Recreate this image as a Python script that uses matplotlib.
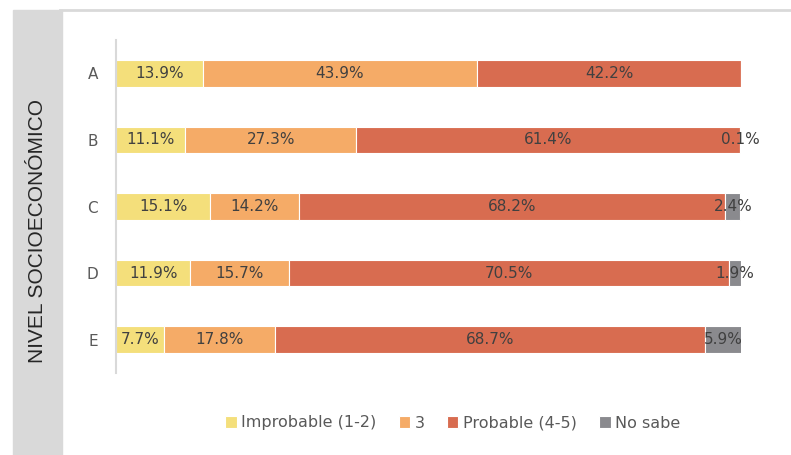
import matplotlib
matplotlib.use("Agg")
import matplotlib.pyplot as plt
from matplotlib.patches import Rectangle
from matplotlib.lines import Line2D

categories = ["A", "B", "C", "D", "E"]
series_names = ["Improbable (1-2)", "3", "Probable (4-5)", "No sabe"]
improbable = [13.9, 11.1, 15.1, 11.9, 7.7]
tres = [43.9, 27.3, 14.2, 15.7, 17.8]
probable = [42.2, 61.4, 68.2, 70.5, 68.7]
no_sabe = [0.0, 0.1, 2.4, 1.9, 5.9]
colors = ["#F4DF7B", "#F5AB67", "#D86C50", "#8A8A8E"]

plt.rcParams['font.family'] = ['DejaVu Sans']

W, H = 791, 455
fig = plt.figure(figsize=(W / 100, H / 100), dpi=100)

# background decorations
fig.patches.append(Rectangle((13 / W, 0), (62 - 13) / W, (H - 10) / H,
                             transform=fig.transFigure, color="#D9D9D9", zorder=0))
fig.lines.append(Line2D([60 / W, 1], [1 - 10 / H, 1 - 10 / H], transform=fig.transFigure,
                        color="#D9D9D9", lw=2, zorder=0))
fig.text(38 / W, 1 - 231 / H, "NIVEL SOCIOECONÓMICO", rotation=90, ha="center", va="center",
         fontsize=15, color="#262626", family=["Liberation Sans", "DejaVu Sans"])

ax = fig.add_axes([116 / W, 82 / H, 625 / W, 333 / H])
series = [improbable, tres, probable, no_sabe]
y = list(range(len(categories)))
left = [0.0] * len(categories)
handles = []
for name, vals, col in zip(series_names, series, colors):
    bars = ax.barh(y, vals, left=left, height=0.4, color=col, edgecolor="white",
                   linewidth=0.8, label=name)
    handles.append(bars)
    for yi, v, l in zip(y, vals, left):
        if v > 0:
            ax.text(l + v / 2, yi, f"{v:.1f}%", ha="center", va="center",
                    fontsize=11, color="#404040")
    left = [a + b for a, b in zip(left, vals)]

ax.set_xlim(0, 100)
ax.set_ylim(len(categories) - 0.5, -0.5)
ax.set_yticks(y)
ax.set_yticklabels(categories, fontsize=11, color="#595959")
ax.tick_params(axis="y", length=0, pad=13)
ax.set_xticks([])
for s in ["top", "right", "bottom"]:
    ax.spines[s].set_visible(False)
ax.spines["left"].set_color("#D9D9D9")
ax.spines["left"].set_linewidth(1.5)

fig.legend(handles=handles, labels=series_names, loc="center", bbox_to_anchor=(453 / W, 1 - 423 / H),
           ncol=4, frameon=False, fontsize=11.5, handlelength=0.7, handleheight=0.7,
           handletextpad=0.3, columnspacing=1.4, labelcolor="#595959")

fig.savefig("out.png", dpi=100)
